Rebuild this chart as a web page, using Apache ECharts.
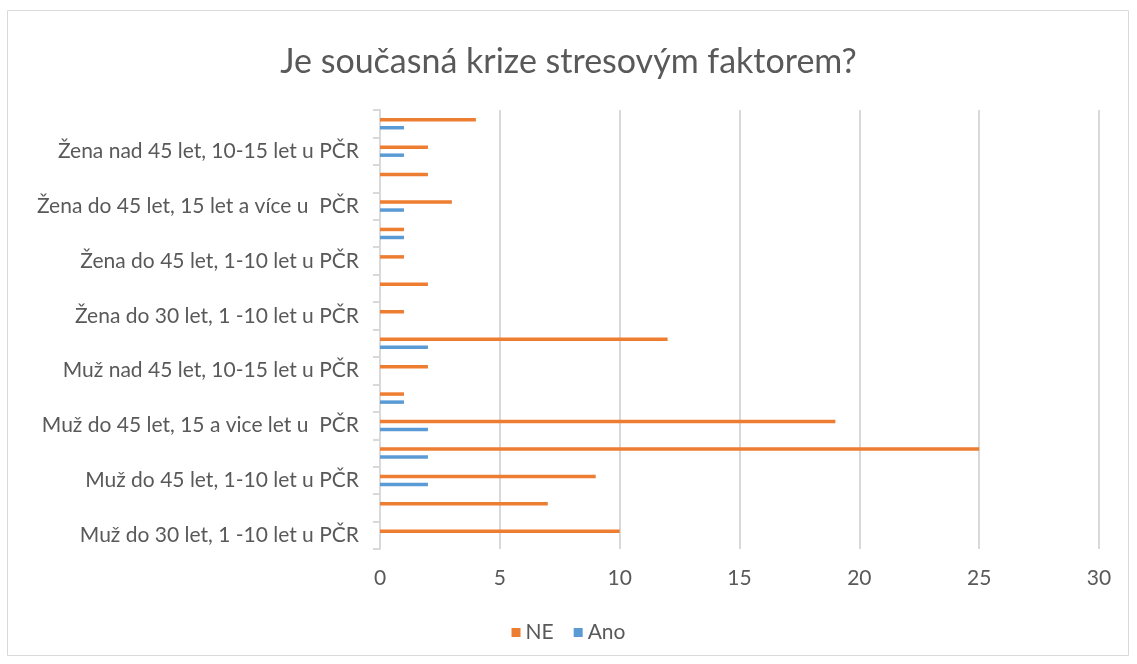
<!DOCTYPE html>
<html>
<head>
<meta charset="utf-8">
<script src="https://cdn.jsdelivr.net/npm/echarts@6/dist/echarts.min.js"></script>
<style>
  html, body { margin: 0; padding: 0; background: #fff; }
  #chart { width: 1137px; height: 664px; }
</style>
</head>
<body>
<div id="chart"></div>
<script>
// kategorie odspodu nahoru (každá druhá popiska je v grafu skrytá)
const categories = [
  'Muž do 30 let, 1 -10 let u PČR',
  'Muž do 30 let, 10-15 let u PČR',
  'Muž do 45 let, 1-10 let u PČR',
  'Muž do 45 let, 10-15 let u PČR',
  'Muž do 45 let, 15 a vice let u  PČR',
  'Muž nad 45 let, 1-10 let u PČR',
  'Muž nad 45 let, 10-15 let u PČR',
  'Muž nad 45 let, 15 let a více u PČR',
  'Žena do 30 let, 1 -10 let u PČR',
  'Žena do 30 let, 10-15 let u PČR',
  'Žena do 45 let, 1-10 let u PČR',
  'Žena do 45 let, 10-15 let u PČR',
  'Žena do 45 let, 15 let a více u  PČR',
  'Žena nad 45 let, 1-10 let u PČR',
  'Žena nad 45 let, 10-15 let u PČR',
  'Žena nad 45 let, 15 let a více u PČR'
]
const neValues = [10, 7, 9, 25, 19, 1, 2, 12, 1, 2, 1, 1, 3, 2, 2, 4]
const anoValues = [0, 0, 2, 2, 2, 1, 0, 2, 0, 0, 0, 1, 1, 0, 1, 1]
const xTicks = { min: 0, max: 30, interval: 5 }

const font = 'Lato, "Open Sans", sans-serif'
const textColor = '#595959'

const chart = echarts.init(document.getElementById('chart'))

const option = {
  animation: false,
  textStyle: { fontFamily: font },
  title: {
    text: 'Je současná krize stresovým faktorem?',
    left: 'center',
    top: 40,
    textStyle: { fontFamily: font, fontSize: 34, fontWeight: 'normal', color: textColor }
  },
  legend: {
    bottom: 16,
    left: 'center',
    itemWidth: 9,
    itemHeight: 9,
    itemGap: 20,
    icon: 'rect',
    textStyle: { fontFamily: font, fontSize: 21, color: textColor },
    data: ['NE', 'Ano']
  },
  grid: {
    left: 380,
    right: 38,
    top: 110,
    bottom: 115
  },
  xAxis: {
    type: 'value',
    min: xTicks.min,
    max: xTicks.max,
    interval: xTicks.interval,
    axisLine: { show: false },
    axisTick: { show: false },
    axisLabel: { fontFamily: font, fontSize: 21, color: textColor, margin: 19 },
    splitLine: { lineStyle: { color: '#d9d9d9', width: 2 } }
  },
  yAxis: {
    type: 'category',
    data: categories,
    axisLine: { lineStyle: { color: '#d9d9d9', width: 2 } },
    axisTick: { show: true, interval: 0, length: 7, lineStyle: { color: '#d9d9d9', width: 2 } },
    axisLabel: {
      interval: (index) => index % 2 === 0,
      fontFamily: font,
      fontSize: 21,
      color: textColor,
      margin: 21
    }
  },
  series: [
    {
      name: 'NE',
      type: 'bar',
      data: neValues,
      barWidth: 3.5,
      barGap: '130%',
      itemStyle: { color: '#ED7D31' }
    },
    {
      name: 'Ano',
      type: 'bar',
      data: anoValues,
      barWidth: 3.5,
      barGap: '130%',
      itemStyle: { color: '#5B9BD5' }
    }
  ],
  graphic: [
    {
      type: 'rect',
      shape: { x: 7.5, y: 10.5, width: 1121, height: 645 },
      style: { fill: null, stroke: '#d9d9d9', lineWidth: 1 },
      silent: true
    }
  ]
}

chart.setOption(option)
</script>
</body>
</html>
